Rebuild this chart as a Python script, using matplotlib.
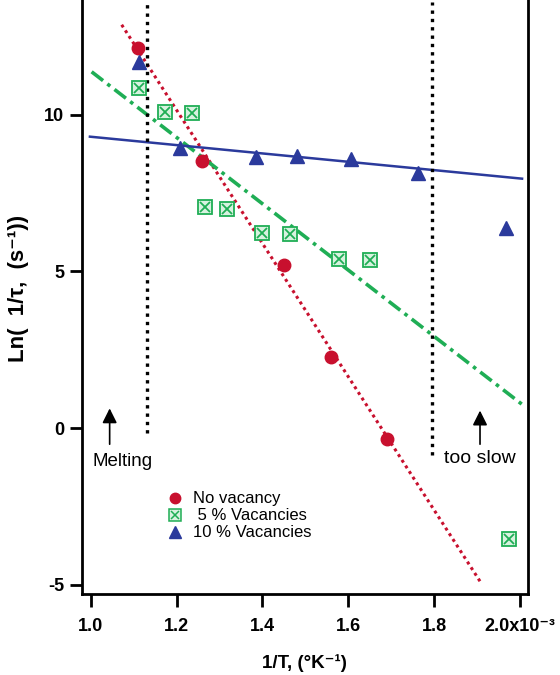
import numpy as np
import matplotlib
matplotlib.use("Agg")
import matplotlib.pyplot as plt
from matplotlib.legend_handler import HandlerTuple
from matplotlib.lines import Line2D

plt.rcParams['font.family'] = ['Liberation Sans', 'DejaVu Sans']
plt.rcParams['axes.unicode_minus'] = False

# ------------------------------------------------------------------
# data (1/T in units of 1e-3 K^-1)
# ------------------------------------------------------------------
novac_x = [1.11, 1.26, 1.45, 1.56, 1.69]
novac_y = [12.13, 8.52, 5.22, 2.26, -0.35]

vac5_x = [1.112, 1.172, 1.235, 1.266, 1.317, 1.399, 1.464, 1.578, 1.650, 1.974]
vac5_y = [10.86, 10.10, 10.06, 7.07, 7.00, 6.24, 6.18, 5.41, 5.38, -3.53]

vac10_x = [1.112, 1.207, 1.385, 1.480, 1.606, 1.762, 1.967]
vac10_y = [11.69, 8.95, 8.66, 8.69, 8.60, 8.15, 6.40]

# fitted lines (end points)
novac_fit_x = [1.072, 1.911]
novac_fit_y = [12.87, -4.97]
vac5_fit_x = [1.002, 2.005]
vac5_fit_y = [11.37, 0.76]
vac10_fit_x = [0.998, 2.005]
vac10_fit_y = [9.30, 7.96]

melting_x = 1.13
slow_x = 1.795

xticks = [1.0, 1.2, 1.4, 1.6, 1.8, 2.0]
xticklabels = ['1.0', '1.2', '1.4', '1.6', '1.8', '2.0x10⁻³']
yticks = [-5, 0, 5, 10]

RED = '#c8102e'
GREEN = '#1fae55'
BLUE = '#2b3a9c'

fig = plt.figure(figsize=(5.6, 6.75), dpi=100)
ax = fig.add_axes([0.146, 0.12, 0.797, 0.88])

# fit lines
ax.plot(novac_fit_x, novac_fit_y, color=RED, linestyle=(0, (1, 1.2)), linewidth=2.2)
ax.plot(vac5_fit_x, vac5_fit_y, color=GREEN, linestyle=(0, (4, 1.5, 1, 1.5)), linewidth=2.6)
ax.plot(vac10_fit_x, vac10_fit_y, color=BLUE, linestyle='-', linewidth=1.8)

# boundary markers
ax.plot([melting_x, melting_x], [-0.15, 13.6], color='black', linestyle=(0, (1, 1.5)), linewidth=2.4)
ax.plot([slow_x, slow_x], [-0.85, 13.6], color='black', linestyle=(0, (1, 1.5)), linewidth=2.4)

# data points
ax.plot(novac_x, novac_y, 'o', color=RED, markersize=9, linestyle='none')
ax.plot(vac5_x, vac5_y, 's', mfc='#d8f2e0', mec=GREEN, mew=1.3, markersize=10, linestyle='none')
ax.plot(vac5_x, vac5_y, 'x', color=GREEN, mew=1.3, markersize=7, linestyle='none')
ax.plot(vac10_x, vac10_y, '^', color=BLUE, markersize=9.5, linestyle='none')

# annotations
ax.annotate('', xy=(1.044, 0.72), xytext=(1.044, -0.6),
            arrowprops=dict(arrowstyle='-|>', color='black', lw=1.2, mutation_scale=22))
ax.text(1.073, -1.07, 'Melting', ha='center', va='center', fontsize=13.5)
ax.annotate('', xy=(1.907, 0.65), xytext=(1.907, -0.6),
            arrowprops=dict(arrowstyle='-|>', color='black', lw=1.2, mutation_scale=22))
ax.text(1.907, -0.97, 'too slow', ha='center', va='center', fontsize=14)

# legend
l1 = Line2D([], [], marker='o', color=RED, markersize=7.5, linestyle='none')
l2a = Line2D([], [], marker='s', mfc='#d8f2e0', mec=GREEN, mew=1.1, markersize=8, linestyle='none')
l2b = Line2D([], [], marker='x', color=GREEN, mew=1.1, markersize=5.5, linestyle='none')
l3 = Line2D([], [], marker='^', color=BLUE, markersize=8, linestyle='none')
ax.legend([l1, (l2a, l2b), l3], ['No vacancy', ' 5 % Vacancies', '10 % Vacancies'],
          handler_map={tuple: HandlerTuple(ndivide=1, pad=0)},
          loc='upper left', bbox_to_anchor=(0.175, 0.184), frameon=False,
          fontsize=12, handlelength=1.0, handletextpad=0.6, labelspacing=0.12,
          borderaxespad=0)

ax.set_xlim(0.979, 2.019)
ax.set_ylim(-5.29, 13.66)
ax.set_xticks(xticks)
ax.set_xticklabels(xticklabels)
ax.set_yticks(yticks)
ax.tick_params(direction='out', length=9, width=2, labelsize=13)
ax.tick_params(axis='x', pad=8)
for lab in ax.get_xticklabels() + ax.get_yticklabels():
    lab.set_fontweight('bold')

ax.spines['top'].set_visible(False)
for s in ['left', 'right', 'bottom']:
    ax.spines[s].set_linewidth(2)

ax.set_xlabel('1/T, (°K⁻¹)', fontsize=13.5, fontweight='bold', labelpad=14)
ax.set_ylabel('Ln(  1/τ,  (s⁻¹))', fontsize=16, fontweight='bold')
ax.yaxis.set_label_coords(-0.118, 0.515)

fig.savefig('out.png', dpi=100)
